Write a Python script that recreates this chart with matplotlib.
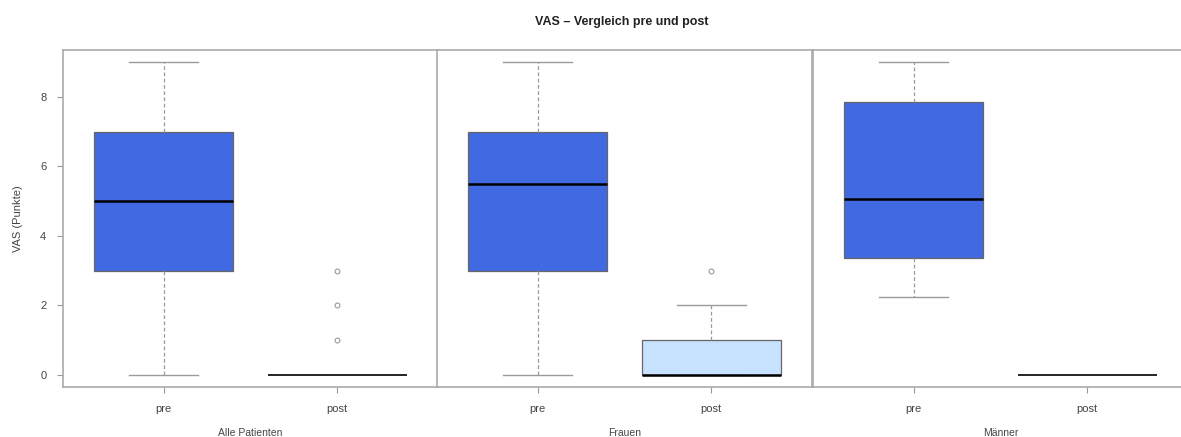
import matplotlib.pyplot as plt

plt.rcParams['font.family'] = ['Liberation Sans', 'DejaVu Sans']

# Boxplot summary values (pre / post for each group)
groups = ["Alle Patienten", "Frauen", "Männer"]
tick_labels = ["pre", "post"]
whislo = [[0, 0], [0, 0], [2.25, 0]]
q1 = [[3, 0], [3, 0], [3.35, 0]]
med = [[5, 0], [5.5, 0], [5.05, 0]]
q3 = [[7, 0], [7, 1], [7.87, 0]]
whishi = [[9, 0], [9, 2], [9, 0]]
fliers = [[[], [1, 2, 3]], [[], [3]], [[], []]]
box_colors = [["#4169E1", "#4169E1"], ["#4169E1", "#C6E2FF"], ["#4169E1", "#4169E1"]]

grey = "#9a9a9a"
text_col = "#444444"

fig = plt.figure(figsize=(11.81, 4.37), dpi=100)
lefts = [63 / 1181, 437 / 1181, 813 / 1181]
width = 375 / 1181
bottom = 1 - 387 / 437
height = (387 - 50) / 437

for i, g in enumerate(groups):
    ax = fig.add_axes([lefts[i], bottom, width, height])
    stats = []
    for j in range(2):
        stats.append(dict(whislo=whislo[i][j], q1=q1[i][j], med=med[i][j],
                          q3=q3[i][j], whishi=whishi[i][j], fliers=fliers[i][j]))
    bp = ax.bxp(stats, positions=[1, 2], widths=0.8, patch_artist=True,
                showfliers=True,
                boxprops=dict(edgecolor="#666666", linewidth=0.9),
                medianprops=dict(color="black", linewidth=1.8),
                whiskerprops=dict(color=grey, linestyle=(0, (3, 2)), linewidth=0.9),
                capprops=dict(color=grey, linewidth=1.0),
                flierprops=dict(marker="o", markersize=3.5, markerfacecolor="none",
                                markeredgecolor=grey, markeredgewidth=0.8))
    for j, patch in enumerate(bp["boxes"]):
        patch.set_facecolor(box_colors[i][j])
        if q1[i][j] == q3[i][j]:
            patch.set_edgecolor("none")
            bp["medians"][j].set_linewidth(1.2)
    for j, cap in enumerate(bp["caps"]):
        if whislo[i][j // 2] == whishi[i][j // 2]:
            cap.set_visible(False)
        cap.set_xdata([1 + j // 2 - 0.2, 1 + j // 2 + 0.2])

    ax.set_xlim(0.42, 2.58)
    ax.set_ylim(-0.36, 9.36)
    for sp in ax.spines.values():
        sp.set_color("#aaaaaa")
        sp.set_linewidth(1.2)
    ax.set_xticks([1, 2])
    ax.set_xticklabels(tick_labels, fontsize=8, color=text_col)
    ax.tick_params(axis="x", length=4, color=grey, pad=8)
    ax.set_xlabel(g, fontsize=7.5, color=text_col, labelpad=10)
    if i == 0:
        ax.set_yticks([0, 2, 4, 6, 8])
        ax.tick_params(axis="y", length=4, color=grey, labelsize=8, labelcolor=text_col, pad=8)
        ax.set_ylabel("VAS (Punkte)", fontsize=8, color=text_col, labelpad=12)
    else:
        ax.set_yticks([])

fig.suptitle("VAS – Vergleich pre und post", x=622 / 1181, y=1 - 22 / 437,
             fontsize=9, fontweight="bold", color="#222222", va="center")

fig.savefig("out.png", dpi=100)
